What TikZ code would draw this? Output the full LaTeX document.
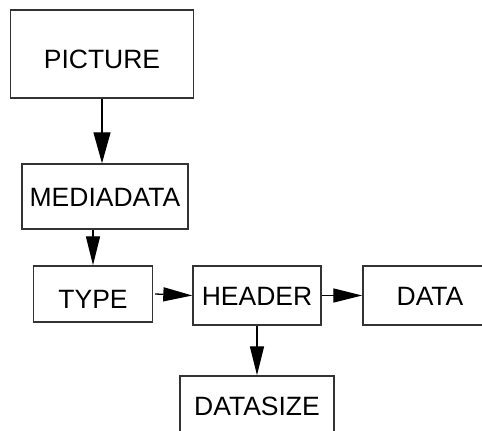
\documentclass[tikz,border=0pt]{standalone}
\usepackage{fontspec}
\setmainfont{Liberation Sans}
\usepackage{tikz}
\usetikzlibrary{arrows.meta,positioning,calc}
\definecolor{Line}{HTML}{333333}

\begin{document}
\begin{tikzpicture}[x=1pt,y=-1pt,
    n/.style={draw=Line,line width=1.4pt,inner sep=0pt,text height=19pt,text depth=0pt,font=\fontsize{26.5}{30}\selectfont},
    low/.style={text height=29pt},
    a/.style={-{Triangle[length=29pt,width=14pt]},line width=1.3pt,draw=black},
    aw/.style={a,-{Triangle[length=31pt,width=17pt]}}]
    \useasboundingbox (0,0) rectangle (482,431);
    \clip (0,0) rectangle (482,431);
    \node[n,low,minimum width=183pt,minimum height=88pt] (pic) at (102,54) {PICTURE};
    \node[n,minimum width=166pt,minimum height=65pt] (med) at (105,196.5) {MEDIADATA};
    \node[n,low,minimum width=119pt,minimum height=56pt] (ty) at (93,294) {TYPE};
    \node[n,minimum width=128pt,minimum height=59pt] (hd) at (257,295.5) {HEADER};
    \node[n,minimum width=134pt,minimum height=59pt] (dt) at (430,295.5) {DATA};
    \node[n,minimum width=154pt,minimum height=60pt] (ds) at (257,406) {DATASIZE};
    \draw[aw] (pic.south) -- (pic.south |- med.north);
    \draw[a] (ty.north |- med.south) -- (ty.north);
    \draw[a] ([xshift=2pt]ty.east) -- (hd.west);
    \draw[a] (hd.east) -- (dt.west);
    \draw[a] (hd.south) -- (ds.north);
\end{tikzpicture}
\end{document}
